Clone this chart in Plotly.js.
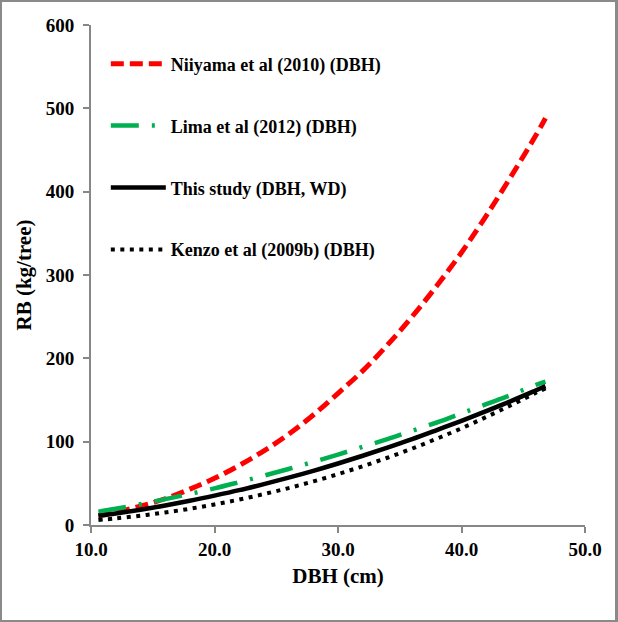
<!DOCTYPE html>
<html>
<head>
<meta charset="utf-8">
<script src="https://cdn.plot.ly/plotly-3.0.1.min.js"></script>
<style>
  html, body { margin: 0; padding: 0; background: #fff; }
  #wrap { position: relative; width: 618px; height: 622px; }
  #chart { position: absolute; left: 0; top: 0; width: 618px; height: 622px; }
  #frame { position: absolute; left: 0; top: 0; width: 618px; height: 622px; box-sizing: border-box;
           border-style: solid; border-color: #8a8a8a; border-width: 2px 3px 2px 2px; pointer-events: none; }
</style>
</head>
<body>
<div id="wrap"><div id="chart"></div><div id="frame"></div></div>
<script>
// DBH values (cm) at which the curves were read
const dbh = [10.6, 12, 14, 16, 18, 20, 22, 24, 26, 28, 30, 32, 34, 36, 38, 40, 42, 44, 46, 46.8];
// Root biomass (kg/tree)
const niiyama   = [11.5, 15.5, 22.5, 31.5, 43, 56, 71.5, 89, 109, 132, 158, 185, 216, 250, 287, 327, 371, 418, 467, 488];
const lima      = [16, 19.5, 25, 31, 37.3, 44, 51.5, 59.2, 67.2, 75.7, 84.5, 93.8, 103, 113, 123, 134, 145, 156, 168, 172];
const thisStudy = [11, 13.8, 18.3, 23.4, 29, 35.2, 41.8, 49.1, 56.8, 65, 73.8, 83.1, 92.8, 103, 113.9, 125, 136.7, 148.7, 161.4, 166.6];
const kenzo     = [6, 7.9, 11.2, 15, 19.5, 24.7, 30.5, 37.1, 44.3, 52.3, 61, 70.6, 80.7, 91.7, 103.6, 116, 129.6, 143.7, 158.5, 164];
const seriesNames = ["Niiyama et al (2010) (DBH)", "Lima et al (2012) (DBH)", "This study (DBH, WD)", "Kenzo et al (2009b) (DBH)"];
const xTicks = [10, 20, 30, 40, 50];
const yTicks = [0, 100, 200, 300, 400, 500, 600];

const serif = "'Liberation Serif', 'Times New Roman', serif";

const traces = [
  {x: dbh, y: niiyama, name: seriesNames[0], legendgroup: "a", legendrank: 1,
   line: {color: "#ff0000", width: 5, dash: "13px,6px", shape: "spline"}},
  {x: dbh, y: lima, name: seriesNames[1], legendgroup: "b", legendrank: 2,
   line: {color: "#00b050", width: 4.5, dash: "28px,13px,3px,13px", shape: "spline"}},
  {x: dbh, y: thisStudy, name: seriesNames[2], legendgroup: "c", legendrank: 3,
   line: {color: "#000000", width: 4.5, shape: "spline"}},
  {x: dbh, y: kenzo, name: seriesNames[3], legendgroup: "d", legendrank: 4,
   line: {color: "#000000", width: 4, dash: "4px,5.5px", shape: "spline"}}
].map(t => Object.assign({type: "scatter", mode: "lines", hoverinfo: "skip"}, t));

// draw so that the solid black line lies above the dotted one
const order = [traces[0], traces[1], traces[3], traces[2]];

const axisCommon = {
  showgrid: false, zeroline: false, showline: true, linecolor: "#878787", linewidth: 2,
  ticks: "outside", ticklen: 6, tickwidth: 2, tickcolor: "#878787",
  tickfont: {family: serif, size: 19, color: "#000"}
};

const layout = {
  width: 618, height: 622,
  margin: {l: 91, r: 33, t: 25, b: 97},
  paper_bgcolor: "#fff", plot_bgcolor: "#fff",
  font: {family: serif, color: "#000"},
  xaxis: Object.assign({}, axisCommon, {
    range: [10, 50], tickvals: xTicks, tickformat: ".1f",
    title: {text: "<b>DBH (cm)</b>", font: {family: serif, size: 21, color: "#000"}, standoff: 10}
  }),
  yaxis: Object.assign({}, axisCommon, {
    range: [0, 600], tickvals: yTicks, ticklabelstandoff: 5,
    title: {text: "<b>RB (kg/tree)</b>", font: {family: serif, size: 21, color: "#000"}, standoff: 8}
  }),
  showlegend: true,
  legend: {
    x: 0.03, y: 0.959, xanchor: "left", yanchor: "top",
    bgcolor: "rgba(0,0,0,0)", borderwidth: 0,
    font: {family: serif, size: 18, color: "#000", weight: "bold"},
    tracegroupgap: 35.5, itemwidth: 55, traceorder: "grouped"
  }
};

Plotly.newPlot("chart", order, layout, {staticPlot: true, displayModeBar: false}).then(() => {
  document.querySelectorAll('#chart .xtick text, #chart .ytick text, #chart .legendtext').forEach(el => {
    el.style.fontWeight = 'bold';
  });
});
</script>
</body>
</html>
